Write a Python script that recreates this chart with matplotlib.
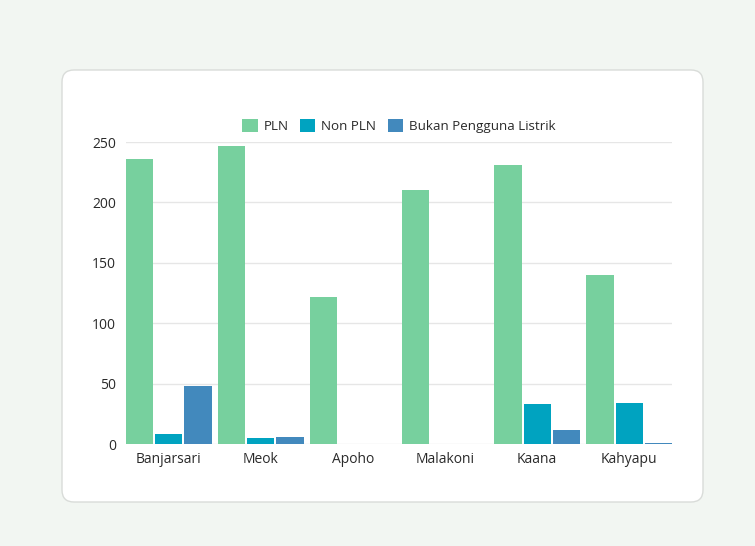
import matplotlib.pyplot as plt
import numpy as np
from matplotlib.patches import FancyBboxPatch

desa = ['Banjarsari', 'Meok', 'Apoho', 'Malakoni', 'Kaana', 'Kahyapu']
pln = [236, 247, 122, 210, 231, 140]
non_pln = [8, 5, 0, 0, 33, 34]
bukan = [48, 6, 0, 0, 12, 1]

plt.rcParams['font.family'] = ['Open Sans', 'DejaVu Sans']

fig = plt.figure(figsize=(7.55, 5.46), dpi=100)
fig.patch.set_facecolor('#f2f6f2')

# white card behind the chart
card = FancyBboxPatch((62, 546 - 502), 641, 432,
                      boxstyle='round,pad=0,rounding_size=12',
                      facecolor='white', edgecolor='#d9dcd9', linewidth=1.0,
                      transform=None, zorder=-5)
fig.patches.append(card)

ax = fig.add_axes([126 / 755, 102 / 546, 546 / 755, 302 / 546])
ax.set_facecolor('none')

x = np.arange(len(desa))
w = 0.295
g = 0.022
ax.bar(x - w - g, pln, w, color='#77d09e', label='PLN', zorder=3)
ax.bar(x, non_pln, w, color='#00a3c0', label='Non PLN', zorder=3)
ax.bar(x + w + g, bukan, w, color='#4289bd', label='Bukan Pengguna Listrik', zorder=3)

ax.set_xlim(-1.5 * w - g, len(desa) - 1 + 1.5 * w + g)
ax.set_ylim(0, 250)
ax.set_yticks([0, 50, 100, 150, 200, 250])
ax.set_xticks(x)
ax.set_xticklabels(desa)
ax.tick_params(length=0, labelsize=10, colors='#2a2a2a')
ax.tick_params(axis='y', pad=7)
ax.tick_params(axis='x', pad=6)
ax.grid(axis='y', color='#e6e6e6', linewidth=1, zorder=0)
for s in ax.spines.values():
    s.set_visible(False)

leg = ax.legend(loc='lower center', bbox_to_anchor=(0.5, 1.012), ncol=3, frameon=False,
                fontsize=9.6, handlelength=1.15, handleheight=1.15, handletextpad=0.45,
                columnspacing=0.85, borderaxespad=0)
for t in leg.get_texts():
    t.set_color('#2a2a2a')

fig.savefig('out.png', dpi=100, facecolor=fig.get_facecolor())
